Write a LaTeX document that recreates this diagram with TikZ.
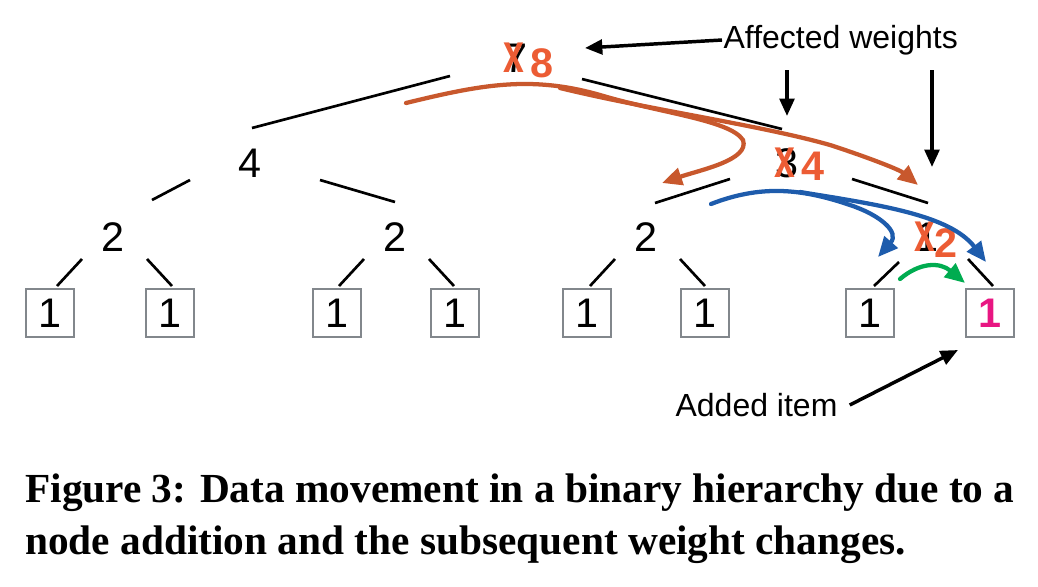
\documentclass[tikz,border=0pt]{standalone}
\usepackage{fontspec}
\usepackage{graphicx}
\setmainfont{Liberation Serif}
\newfontfamily\sansf{Liberation Sans}
\usetikzlibrary{arrows.meta}
\definecolor{onum}{RGB}{236,92,52}
\definecolor{oarr}{RGB}{200,88,45}
\definecolor{barr}{RGB}{30,92,172}
\definecolor{garr}{RGB}{0,172,80}
\definecolor{mag}{RGB}{232,22,130}
\definecolor{boxg}{RGB}{130,135,140}
\begin{document}
\begin{tikzpicture}[x=0.75pt,y=-0.75pt,
  num/.style={font=\sansf\fontsize{31}{31}\selectfont,inner sep=0pt},
  onumst/.style={font=\sansf\bfseries\fontsize{31}{31}\selectfont,inner sep=0pt,text=onum},
  cross/.style={font=\sansf\bfseries\fontsize{28}{28}\selectfont,inner sep=0pt,text=onum,yscale=1.5},
  leaf/.style={draw=boxg,line width=1.9pt,minimum size=36pt,inner sep=0pt,font=\sansf\fontsize{31}{31}\selectfont},
  edge/.style={line width=2pt},
  lbl/.style={font=\sansf\fontsize{24}{24}\selectfont,inner sep=1pt},
  blk/.style={line width=2.6pt,-{Triangle[length=13pt,width=11pt]}},
  carr/.style={line width=3.2pt,-{Triangle[length=15pt,width=13pt]},line cap=round}]
\useasboundingbox (0,0) rectangle (1038,586);
% weights
\node[num] (r) at (516,58) {7};
\node[onumst] (r2) at (542,63) {8};
\node[cross] (rx) at (514,58) {x};
\node[num] (a) at (250,163) {4};
\node[num] (b) at (787,163) {3};
\node[cross] (bx) at (785,163) {x};
\node[onumst] (b2) at (813,166) {4};
\node[num] (c1) at (113,237) {2};
\node[num] (c2) at (395,237) {2};
\node[num] (c3) at (646,237) {2};
\node[num] (c4) at (927,237) {1};
\node[cross] (c4x) at (925,237) {x};
\node[onumst] (c42) at (946,243) {2};
% leaves
\foreach \n/\x in {l1/50,l2/170,l3/337,l4/455,l5/587,l6/705,l7/870}
  \node[leaf] (\n) at (\x,313) {1};
\node[leaf,text=mag,font=\sansf\bfseries\fontsize{31}{31}\selectfont] (l8) at (990,313) {1};
% edges
\draw[edge] (252,128) -- (450,76);
\draw[edge] (582,79) -- (782,129);
\draw[edge] (152,200) -- (190,180);
\draw[edge] (320,180) -- (395,202);
\draw[edge] (655,203) -- (730,179);
\draw[edge] (852,179) -- (928,203);
\foreach \p in {113,395,646}{
  \draw[edge] (\p-31,259) -- (\p-56,286);
  \draw[edge] (\p+34,259) -- (\p+59,286);}
\draw[edge] (899,262) -- (874,286);
\draw[edge] (968,259) -- (993,286);
% labels
\node[lbl,anchor=west] (aw) at (722,40) {Affected weights};
\node[lbl,anchor=west] (ai) at (674,405) {Added item};
\coordinate (awa) at (787,70);
\coordinate (awb) at (932,70);
\draw[blk] (aw.west) -- (585,48);
\draw[blk] (awa) -- (787,116);
\draw[blk] (awb) -- (932,167);
\draw[blk] ([xshift=8pt]ai.east) -- (958,350);
% movement arrows
\draw[carr,oarr] (406,103) .. controls (480,85) and (530,75) .. (600,95)
  .. controls (660,113) and (730,120) .. (743,140)
  .. controls (750,160) and (700,170) .. (662,183);
\draw[carr,oarr] (560,88) .. controls (650,110) and (760,125) .. (830,145)
  .. controls (870,158) and (900,170) .. (918,185);
\draw[carr,barr] (711,204) .. controls (760,185) and (800,188) .. (850,205)
  .. controls (880,215) and (900,232) .. (878,257);
\draw[carr,barr] (800,192) .. controls (880,205) and (950,215) .. (986,262);
\draw[carr,garr] (900,279) .. controls (920,262) and (940,262) .. (965,283);
% caption
\node[anchor=west,inner sep=0pt,font=\bfseries\fontsize{31}{31}\selectfont] (cap1) at (25,493) {Figure 3: Data movement in a binary hierarchy due to a};
\node[anchor=west,inner sep=0pt,font=\bfseries\fontsize{31}{31}\selectfont] (cap2) at (25,545) {node addition and the subsequent weight changes.};
\end{tikzpicture}
\end{document}
